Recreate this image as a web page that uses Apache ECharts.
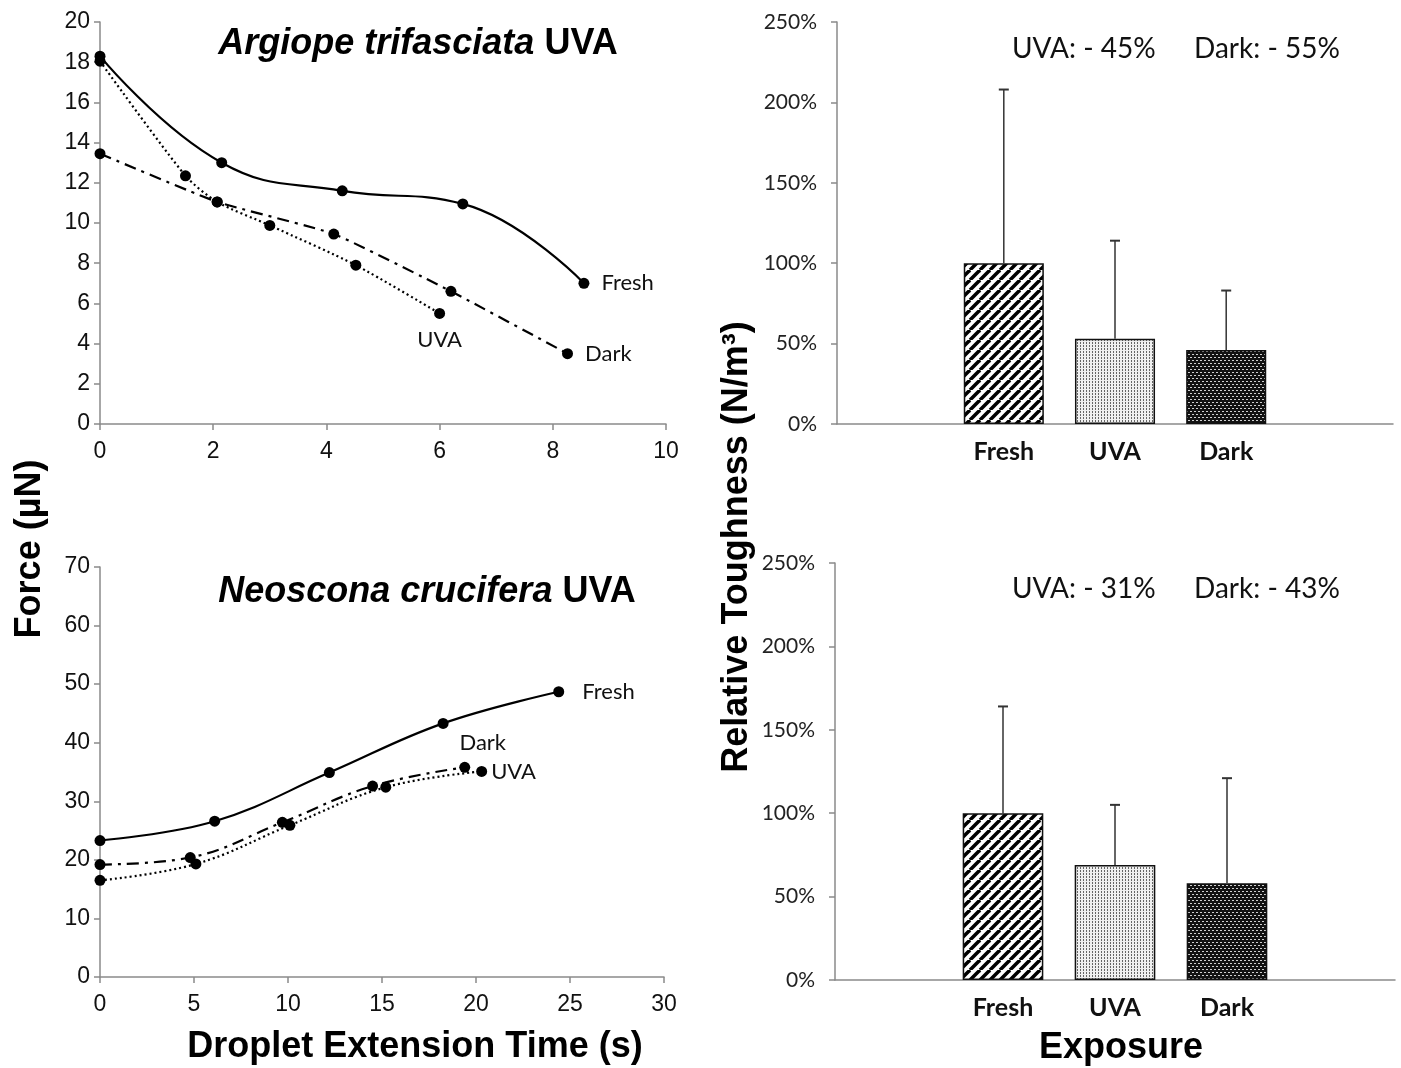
<!DOCTYPE html>
<html>
<head>
<meta charset="utf-8">
<script src="https://cdn.jsdelivr.net/npm/echarts@6/dist/echarts.min.js"></script>
<style>
  html, body { margin: 0; padding: 0; background: #fff; }
  #chart { width: 1401px; height: 1068px; }
</style>
</head>
<body>
<div id="chart"></div>
<script>
// Argiope trifasciata: extension time (s) vs force (µN)
const argFreshX = [0, 2.15, 4.28, 6.41, 8.55];
const argFreshY = [18.3, 13.0, 11.6, 10.95, 7.0];
const argUvaX = [0, 1.51, 2.07, 3.0, 4.52, 6.0];
const argUvaY = [18.05, 12.35, 11.05, 9.88, 7.9, 5.5];
const argDarkX = [0, 2.07, 4.13, 6.2, 8.26];
const argDarkY = [13.45, 11.05, 9.45, 6.6, 3.5];

// Neoscona crucifera
const neoFreshX = [0, 6.1, 12.2, 18.25, 24.4];
const neoFreshY = [23.3, 26.6, 34.9, 43.3, 48.7];
const neoUvaX = [0, 5.1, 10.1, 15.2, 20.3];
const neoUvaY = [16.5, 19.3, 25.9, 32.4, 35.1];
const neoDarkX = [0, 4.8, 9.7, 14.5, 19.4];
const neoDarkY = [19.2, 20.4, 26.4, 32.6, 35.8];

// Relative toughness (%), mean and upper error
const exposures = ["Fresh", "UVA", "Dark"];
const argTough = [100, 53, 46];
const argToughErr = [108, 61, 37];
const neoTough = [100, 69, 58];
const neoToughErr = [64, 36, 63];
const argChange = ["UVA: - 45%", "Dark: - 55%"];
const neoChange = ["UVA: - 31%", "Dark: - 43%"];

const AXIS_COLOR = "#8a8a8a";
const ARIAL = '"Liberation Sans", Arial, sans-serif';
const CALIBRI = 'Lato, "Open Sans", sans-serif';

// motivos de relleno para las barras
function makeTile(w, h, draw) {
  const c = document.createElement("canvas");
  c.width = w;
  c.height = h;
  draw(c.getContext("2d"), w, h);
  return c;
}
const stripeTile = makeTile(10, 10, (ctx, s) => {
  ctx.fillStyle = "#fff";
  ctx.fillRect(0, 0, s, s);
  ctx.strokeStyle = "#000";
  ctx.lineWidth = 3.5;
  [-s, 0, s].forEach((o) => {
    ctx.beginPath();
    ctx.moveTo(o, s);
    ctx.lineTo(o + s, 0);
    ctx.stroke();
  });
});
const lightDotTile = makeTile(3, 3, (ctx, w, h) => {
  ctx.fillStyle = "#f0f0f0";
  ctx.fillRect(0, 0, w, h);
  ctx.fillStyle = "#666";
  ctx.fillRect(0, 0, 1, 2);
});
const darkDotTile = makeTile(4, 6, (ctx, w, h) => {
  ctx.fillStyle = "#121212";
  ctx.fillRect(0, 0, w, h);
  ctx.fillStyle = "#d0d0d0";
  ctx.fillRect(0, 0, 2, 1);
  ctx.fillRect(2, 3, 2, 1);
});
const barFills = [
  { image: stripeTile, repeat: "repeat" },
  { image: lightDotTile, repeat: "repeat" },
  { image: darkDotTile, repeat: "repeat" },
];

function lineSeries(name, xs, ys, idx, lineType, smooth, label) {
  const data = xs.map((x, i) => [x, ys[i]]);
  const last = data.length - 1;
  data[last] = {
    value: data[last],
    label: Object.assign({ show: true, formatter: name }, label),
  };
  return {
    type: "line",
    name: name,
    xAxisIndex: idx,
    yAxisIndex: idx,
    data: data,
    smooth: smooth,
    symbol: "circle",
    symbolSize: 11,
    itemStyle: { color: "#000" },
    lineStyle: { color: "#000", width: 2.2, type: lineType },
    label: { show: false, fontFamily: CALIBRI, fontSize: 22, color: "#111" },
    emphasis: { disabled: true },
  };
}

function barSeries(values, idx) {
  return {
    type: "bar",
    xAxisIndex: idx,
    yAxisIndex: idx,
    barWidth: "72%",
    data: ["-"].concat(
      values.map((v, i) => ({ value: v, itemStyle: { color: barFills[i] } })),
      ["-"]
    ),
    itemStyle: { borderColor: "#111", borderWidth: 1.5 },
    emphasis: { disabled: true },
  };
}

function renderErr(params, api) {
  const x = api.value(0);
  const v = api.value(1);
  const e = api.value(2);
  const p0 = api.coord([x, v]);
  const p1 = api.coord([x, v + e]);
  return {
    type: "group",
    children: [
      { type: "line", shape: { x1: p0[0], y1: p0[1], x2: p1[0], y2: p1[1] }, style: { stroke: "#333", lineWidth: 1.5 } },
      { type: "line", shape: { x1: p1[0] - 5, y1: p1[1], x2: p1[0] + 5, y2: p1[1] }, style: { stroke: "#333", lineWidth: 2 } },
    ],
  };
}

function errSeries(values, errs, idx) {
  return {
    type: "custom",
    xAxisIndex: idx,
    yAxisIndex: idx,
    renderItem: renderErr,
    encode: { x: 0, y: 1 },
    data: values.map((v, i) => [i + 1, v, errs[i]]),
    z: 5,
  };
}

function valueAxis(idx, min, max, interval, labelOpts) {
  return {
    gridIndex: idx,
    type: "value",
    min: min,
    max: max,
    interval: interval,
    axisLine: { show: true, onZero: false, lineStyle: { color: AXIS_COLOR, width: 1.5 } },
    axisTick: { show: true, length: 6, lineStyle: { color: AXIS_COLOR, width: 1.5 } },
    splitLine: { show: false },
    axisLabel: Object.assign({ fontFamily: ARIAL, fontSize: 23, color: "#111" }, labelOpts),
  };
}

function catAxis(idx) {
  return {
    gridIndex: idx,
    type: "category",
    data: [""].concat(exposures, [""]),
    boundaryGap: true,
    axisLine: { show: true, lineStyle: { color: AXIS_COLOR, width: 1.5 } },
    axisTick: { show: false },
    axisLabel: { interval: 0, fontFamily: CALIBRI, fontWeight: "bold", fontSize: 25, color: "#111", margin: 15 },
  };
}

function titleText(x, y, italicPart, plainPart) {
  return {
    type: "text",
    x: x,
    y: y,
    style: {
      text: "{i|" + italicPart + "}{b| " + plainPart + "}",
      align: "center",
      verticalAlign: "middle",
      rich: {
        i: { fontFamily: ARIAL, fontSize: 36, fontWeight: "bold", fontStyle: "italic", fill: "#000" },
        b: { fontFamily: ARIAL, fontSize: 36, fontWeight: "bold", fill: "#000" },
      },
    },
  };
}

function noteText(x, y, text) {
  return {
    type: "text",
    x: x,
    y: y,
    style: { text: text, fontFamily: CALIBRI, fontSize: 28, fill: "#111", verticalAlign: "middle" },
  };
}

function axisTitle(x, y, text, rotate) {
  return {
    type: "text",
    x: x,
    y: y,
    rotation: rotate ? Math.PI / 2 : 0,
    style: {
      text: text,
      fontFamily: ARIAL,
      fontSize: 36,
      fontWeight: "bold",
      fill: "#000",
      align: "center",
      verticalAlign: "middle",
    },
  };
}

const chart = echarts.init(document.getElementById("chart"));

const option = {
  animation: false,
  backgroundColor: "#fff",
  grid: [
    { left: 100, top: 22, width: 566, height: 402 },
    { left: 100, top: 567, width: 564, height: 410 },
    { left: 837, top: 22, width: 556, height: 402 },
    { left: 835, top: 563, width: 560, height: 417 },
  ],
  xAxis: [
    valueAxis(0, 0, 10, 2, { margin: 16 }),
    valueAxis(1, 0, 30, 5, { margin: 16 }),
    catAxis(2),
    catAxis(3),
  ],
  yAxis: [
    valueAxis(0, 0, 20, 2, { margin: 10 }),
    valueAxis(1, 0, 70, 10, { margin: 10 }),
    valueAxis(2, 0, 250, 50, { fontFamily: CALIBRI, fontSize: 21, color: "#222", margin: 20, formatter: "{value}%" }),
    valueAxis(3, 0, 250, 50, { fontFamily: CALIBRI, fontSize: 21, color: "#222", margin: 20, formatter: "{value}%" }),
  ],
  series: [
    lineSeries("Fresh", argFreshX, argFreshY, 0, "solid", 0.45, { position: "right", distance: 12 }),
    lineSeries("UVA", argUvaX, argUvaY, 0, [2, 3], 0.25, { position: "bottom", distance: 10 }),
    lineSeries("Dark", argDarkX, argDarkY, 0, [12, 6, 3, 6], 0.15, { position: "right", distance: 12 }),
    lineSeries("Fresh", neoFreshX, neoFreshY, 1, "solid", 0.4, { position: "right", distance: 18 }),
    lineSeries("UVA", neoUvaX, neoUvaY, 1, [2, 3], 0.4, { position: "right", distance: 4 }),
    lineSeries("Dark", neoDarkX, neoDarkY, 1, [12, 6, 3, 6], 0.4, { position: "top", distance: 8, offset: [18, 0] }),
    barSeries(argTough, 2),
    errSeries(argTough, argToughErr, 2),
    barSeries(neoTough, 3),
    errSeries(neoTough, neoToughErr, 3),
  ],
  graphic: [
    titleText(418, 44, "Argiope trifasciata", "UVA"),
    titleText(427, 592, "Neoscona crucifera", "UVA"),
    noteText(1012, 49, argChange[0]),
    noteText(1194, 49, argChange[1]),
    noteText(1012, 589, neoChange[0]),
    noteText(1194, 589, neoChange[1]),
    axisTitle(30, 549, "Force (µN)", true),
    axisTitle(737, 547, "Relative Toughness (N/m³)", true),
    axisTitle(415, 1047, "Droplet Extension Time (s)", false),
    axisTitle(1121, 1048, "Exposure", false),
  ],
};

chart.setOption(option);
window.addEventListener("resize", function () {
  chart.resize();
});
</script>
</body>
</html>
